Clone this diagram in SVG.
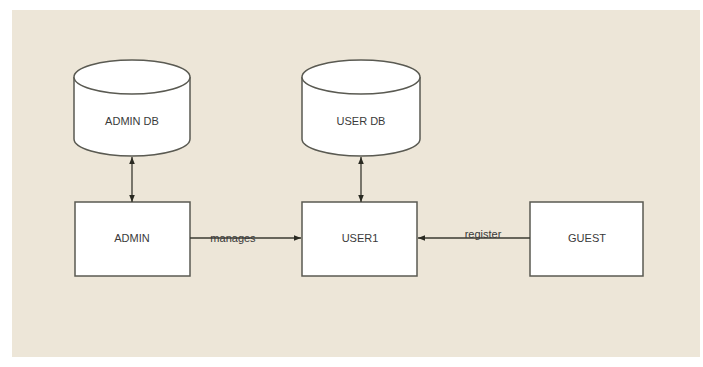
<svg xmlns="http://www.w3.org/2000/svg" width="703" height="367" viewBox="0 0 703 367">
<defs>
<style>
.shape{fill:#ffffff;stroke:#5a5a52;stroke-width:1.5}
.lbl{font-family:"Liberation Sans",Arial,sans-serif;font-size:11px;fill:#3a3a3a;text-anchor:middle}
.conn{stroke:#3a3a32;stroke-width:1.3;fill:none}
</style>
<marker id="ah" viewBox="0 0 10 10" refX="10" refY="5" markerWidth="7" markerHeight="7" orient="auto-start-reverse" markerUnits="userSpaceOnUse">
<path d="M0,1 L10,5 L0,9 Z" fill="#2a2a22"/>
</marker>
</defs>
<rect x="0" y="0" width="703" height="367" fill="#ffffff"/>
<rect x="12" y="10" width="688" height="347" fill="#ede6d8"/>
<g id="admin-db">
<path class="shape" d="M74,77 L74,139 A58,17 0 0 0 190,139 L190,77 A58,17 0 0 0 74,77 Z"/>
<path class="shape" fill="none" d="M74,77 A58,17 0 0 0 190,77"/>
<text class="lbl" x="132" y="125">ADMIN DB</text>
</g>
<g id="user-db">
<path class="shape" d="M302,77 L302,139 A59,17 0 0 0 420,139 L420,77 A59,17 0 0 0 302,77 Z"/>
<path class="shape" fill="none" d="M302,77 A59,17 0 0 0 420,77"/>
<text class="lbl" x="361" y="125">USER DB</text>
</g>
<g id="admin">
<rect class="shape" x="75" y="202" width="115" height="74"/>
<text class="lbl" x="132" y="242">ADMIN</text>
</g>
<g id="user1">
<rect class="shape" x="302" y="202" width="115" height="74"/>
<text class="lbl" x="360" y="242">USER1</text>
</g>
<g id="guest">
<rect class="shape" x="530" y="202" width="113" height="74"/>
<text class="lbl" x="587" y="242">GUEST</text>
</g>
<g id="connectors">
<line class="conn" x1="132" y1="157" x2="132" y2="202" marker-start="url(#ah)" marker-end="url(#ah)"/>
<line class="conn" x1="361" y1="157" x2="361" y2="202" marker-start="url(#ah)" marker-end="url(#ah)"/>
<line class="conn" x1="190" y1="238" x2="301" y2="238" marker-end="url(#ah)"/>
<line class="conn" x1="530" y1="238" x2="418" y2="238" marker-end="url(#ah)"/>
<text class="lbl" x="233" y="242">manages</text>
<text class="lbl" x="483" y="238">register</text>
</g>
</svg>
